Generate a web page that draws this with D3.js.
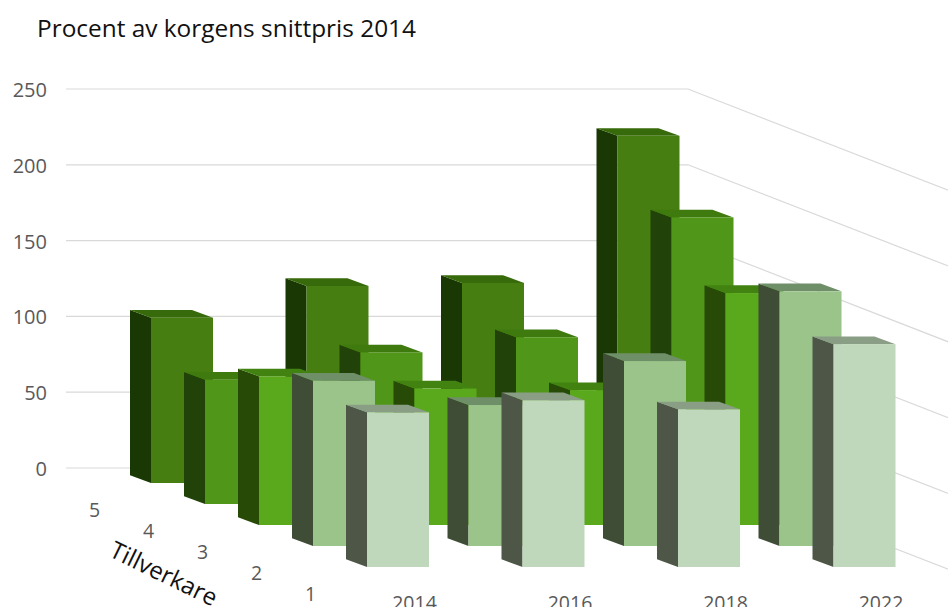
<!DOCTYPE html>
<html>
<head>
<meta charset="utf-8">
<script src="https://cdn.jsdelivr.net/npm/d3@7"></script>
<style>
  html, body { margin: 0; background: #fff; overflow: hidden; }
  text { font-family: "Open Sans", sans-serif; }
</style>
</head>
<body>
<svg id="chart" width="948" height="607"></svg>
<script>
const years = ["2014", "2016", "2018", "2022"];
// back row first, that is also the drawing order
const makers = ["5", "4", "3", "2", "1"];

const maker5 = [109, 130, 132, 229];
const maker4 = [82, 100, 110, 189];
const maker3 = [98, 90, 89, 153];
const maker2 = [109, 93, 122, 168];
const maker1 = [102, 110, 104, 147];
const rows = [maker5, maker4, maker3, maker2, maker1];

const frontColors = ["#477e12", "#509618", "#5aa81c", "#9ac48a", "#bfd7bb"];
const topColors = ["#376a0a", "#3f7a0e", "#418210", "#6f8f68", "#8a9e86"];
const sideColors = ["#1a3804", "#214208", "#274b07", "#3f4d37", "#4d5647"];

const svg = d3.select("#chart");

const barW = 62;
const sideX = 21, sideY = 7.7;

const y = d3.scaleLinear().domain([0, 250]).range([468, 89]);
const x = d3.scalePoint().domain(years).range([151, 617.5]);
const depthX = d3.scalePoint().domain(makers).range([0, 216]);
const depthY = d3.scalePoint().domain(makers).range([483, 567]);

// walls
const wallRight = 688, slope = 0.389;
svg.append("g").selectAll("polyline")
  .data(y.ticks(5))
  .enter().append("polyline")
  .attr("points", d => [[66, y(d)], [wallRight, y(d)], [960, y(d) + (960 - wallRight) * slope]].join(" "))
  .attr("fill", "none")
  .attr("stroke", "#d9d9d9")
  .attr("stroke-width", 1.2);

// value labels
const yAxis = svg.append("g")
  .attr("transform", "translate(47,1)")
  .call(d3.axisLeft(y).ticks(5).tickSize(0).tickPadding(0));
yAxis.select(".domain").remove();
yAxis.selectAll("text")
  .style("font-family", '"Open Sans", sans-serif')
  .style("font-size", "20px")
  .attr("fill", "#595959");

// bars
const bars = svg.append("g");
makers.forEach((m, r) => {
  const row = bars.append("g").attr("class", "row");
  years.forEach((yr, c) => {
    const x0 = x(yr) + depthX(m);
    const bottom = depthY(m);
    const top = bottom - (y(0) - y(rows[r][c]));

    row.append("polygon")
      .attr("points", [[x0, top], [x0 - sideX, top - sideY], [x0 - sideX, bottom - sideY], [x0, bottom]].join(" "))
      .attr("fill", sideColors[r]);
    row.append("polygon")
      .attr("points", [[x0, top], [x0 - sideX, top - sideY], [x0 - sideX + barW, top - sideY], [x0 + barW, top]].join(" "))
      .attr("fill", topColors[r]);
    row.append("rect")
      .attr("x", x0)
      .attr("y", top)
      .attr("width", barW)
      .attr("height", bottom - top)
      .attr("fill", frontColors[r]);
  });
});

// year labels, cut by the bottom edge like in the original
svg.append("g").selectAll("text")
  .data(years)
  .enter().append("text")
  .attr("x", d => x(d) + depthX("1") + barW / 2 + 16.5)
  .attr("y", 610)
  .attr("text-anchor", "middle")
  .attr("font-size", 19.5)
  .attr("fill", "#595959")
  .text(d => d);

// maker labels
svg.append("g").selectAll("text")
  .data(makers)
  .enter().append("text")
  .attr("x", d => depthX(d) + 94.5)
  .attr("y", d => depthY(d) + 34)
  .attr("text-anchor", "middle")
  .attr("font-size", 19.5)
  .attr("fill", "#595959")
  .text(d => d);

svg.append("text")
  .attr("transform", "translate(163,575.5) rotate(26)")
  .attr("text-anchor", "middle")
  .attr("dominant-baseline", "middle")
  .attr("font-size", 24)
  .attr("fill", "#111")
  .text("Tillverkare");

svg.append("text")
  .attr("x", 37)
  .attr("y", 37)
  .attr("font-size", 24.4)
  .attr("fill", "#111")
  .text("Procent av korgens snittpris 2014");
</script>
</body>
</html>
